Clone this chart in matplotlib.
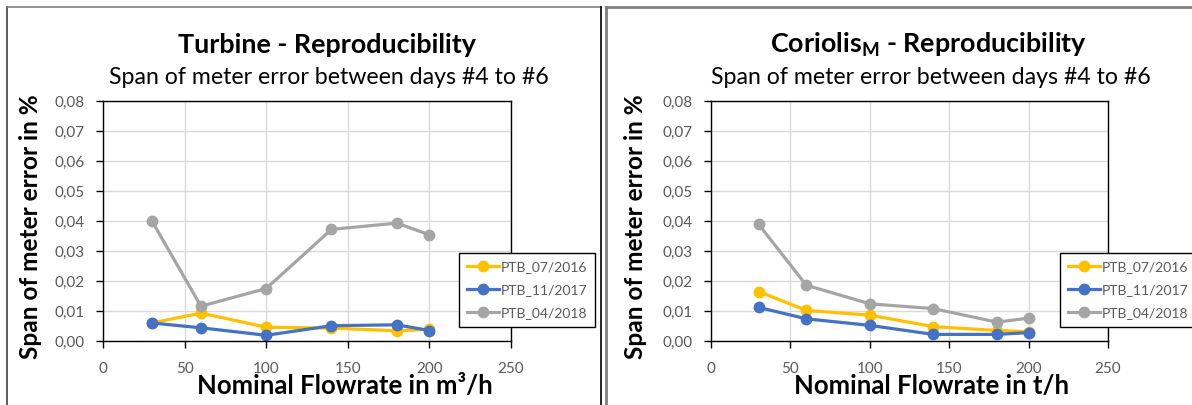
import matplotlib
matplotlib.use("Agg")
import matplotlib.pyplot as plt
from matplotlib.lines import Line2D
from matplotlib.ticker import MultipleLocator, FuncFormatter

W, H = 1192, 405

flow = [30, 60, 100, 140, 180, 200]
series_names = ["PTB_07/2016", "PTB_11/2017", "PTB_04/2018"]

turbine_2016 = [0.0060, 0.0093, 0.0046, 0.0043, 0.0034, 0.0039]
turbine_2017 = [0.0060, 0.0044, 0.0019, 0.0051, 0.0054, 0.0035]
turbine_2018 = [0.0400, 0.0116, 0.0175, 0.0372, 0.0393, 0.0354]

coriolis_2016 = [0.0165, 0.0102, 0.0086, 0.0048, 0.0035, 0.0031]
coriolis_2017 = [0.0112, 0.0074, 0.0052, 0.0022, 0.0022, 0.0028]
coriolis_2018 = [0.0389, 0.0186, 0.0124, 0.0108, 0.0063, 0.0076]

colors = ["#FFC000", "#4472C4", "#A5A5A5"]

plt.rcParams['font.family'] = ['Lato', 'DejaVu Sans']
plt.rcParams['mathtext.fontset'] = 'custom'
plt.rcParams['mathtext.rm'] = 'Lato'
plt.rcParams['mathtext.bf'] = 'Lato:bold'

fig = plt.figure(figsize=(W / 100, H / 100), dpi=100)


def fx(x):
    return x / W


def fy(y):
    return 1 - y / H


def make_panel(x0, x1, series, title, xlabel, cx, xl_cx, ylab_x, leg_xy):
    ax = fig.add_axes([fx(x0), fy(341), (x1 - x0) / W, (341 - 101) / H])
    for vals, name, c in zip(series, series_names, colors):
        ax.plot(flow, vals, color=c, lw=2.3, marker='o', ms=7.5, label=name,
                solid_joinstyle='round')
    ax.set_xlim(0, 250)
    ax.set_ylim(0, 0.08)
    ax.xaxis.set_major_locator(MultipleLocator(50))
    ax.yaxis.set_major_locator(MultipleLocator(0.01))
    ax.yaxis.set_major_formatter(FuncFormatter(lambda v, p: f"{v:.2f}".replace('.', ',')))
    ax.grid(True, color='#D9D9D9', lw=1.0)
    ax.set_axisbelow(True)
    for s in ax.spines.values():
        s.set_color('black')
        s.set_linewidth(1.0)
    ax.tick_params(axis='both', direction='out', length=5, width=1.0,
                   colors='black', labelcolor='#595959', labelsize=11)
    ax.tick_params(axis='y', pad=8)
    ax.tick_params(axis='x', pad=10)
    # legend
    lx0, ly0 = leg_xy
    leg = ax.legend(loc='upper left', bbox_to_anchor=(fx(lx0), fy(ly0)),
                    bbox_transform=fig.transFigure,
                    frameon=True, fancybox=False, edgecolor='black', framealpha=1,
                    fontsize=10, handlelength=2.3, handletextpad=0.15,
                    labelspacing=0.8, borderpad=0.55, borderaxespad=0,
                    labelcolor='#595959')
    leg.get_frame().set_linewidth(1.0)
    fig.text(fx(cx), fy(45), title, ha='center', va='center',
             fontsize=19.4, fontweight='bold', color='black')
    fig.text(fx(cx + 2), fy(77), "Span of meter error between days #4 to #6",
             ha='center', va='center', fontsize=16.7, color='black')
    fig.text(fx(xl_cx), fy(386), xlabel, ha='center', va='center',
             fontsize=18.5, fontweight='bold', color='black')
    fig.text(fx(ylab_x), fy(227), "Span of meter error in %", rotation=90,
             ha='center', va='center', fontsize=17.6, fontweight='bold', color='black')
    return ax


make_panel(103, 511, [turbine_2016, turbine_2017, turbine_2018],
           "Turbine - Reproducibility", "Nominal Flowrate in m³/h",
           327, 345, 31, (459, 253))
make_panel(711, 1108, [coriolis_2016, coriolis_2017, coriolis_2018],
           r"Coriolis$_{\mathbf{M}}$ - Reproducibility", "Nominal Flowrate in t/h",
           929, 932, 635, (1060, 253))

# panel frames
def fline(xs, ys, color, lw):
    fig.add_artist(Line2D([fx(x) for x in xs], [fy(y) for y in ys],
                          transform=fig.transFigure, color=color, lw=lw))

fline([7.5, 7.5], [7, 406], '#404040', 1.2)
fline([7.5, 600.5], [7, 7], '#808080', 1.2)
fline([600.5, 600.5], [7, 406], 'black', 1.2)
fline([605.5, 605.5], [7, 406], '#808080', 2.0)
fline([605.5, 1192], [7, 7], '#808080', 2.0)

fig.savefig("out.png", dpi=100)
